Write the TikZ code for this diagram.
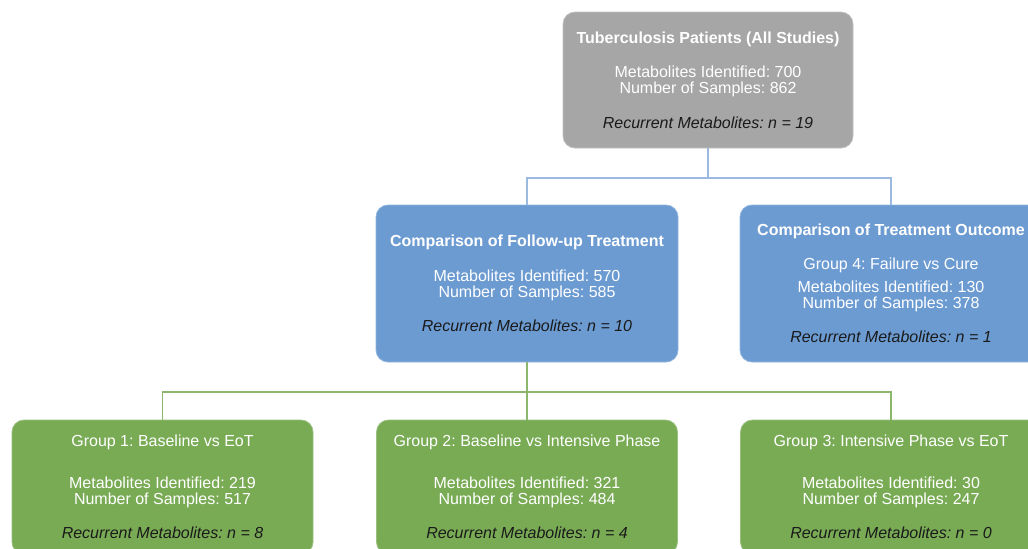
\documentclass[tikz,border=0pt]{standalone}
\usepackage{fontspec}
\setmainfont{Liberation Sans}
\frenchspacing
\definecolor{boxgray}{HTML}{A6A6A6}
\definecolor{boxblue}{HTML}{6C9BD2}
\definecolor{boxgreen}{HTML}{79AB55}
\definecolor{lineblue}{HTML}{9CB9DF}
\definecolor{linegreen}{HTML}{8DB66D}
\definecolor{txtdark}{HTML}{1A1A1A}
\newcommand{\ttl}[1]{\makebox[0pt][c]{\textbf{#1}}}
\newcommand{\rec}[1]{{\color{txtdark}\itshape Recurrent Metabolites: n = #1}}
\begin{document}
\begin{tikzpicture}[x=0.5pt, y=-0.5pt,
    card/.style={rectangle, rounded corners=6pt, inner sep=0pt, align=center, text=white,
        font=\fontsize{8}{8.1}\selectfont},
    allbox/.style={card, fill=boxgray, draw=boxgray!70!white, minimum width=145pt, minimum height=68pt},
    cmpbox/.style={card, fill=boxblue, draw=boxblue!75!white, minimum width=151pt, minimum height=78.5pt},
    grpbox/.style={card, fill=boxgreen, draw=boxgreen!75!white, minimum width=150.5pt, minimum height=67pt},
    bluelink/.style={draw=lineblue, line width=0.6pt},
    greenlink/.style={draw=linegreen, line width=0.6pt}
]
    \useasboundingbox (0,0) rectangle (1028,548);
    % top level
    \node[allbox] (allpat) at (708,80) {\ttl{Tuberculosis Patients (All Studies)}\\[9pt]
        Metabolites Identified: 700\\Number of Samples: 862\\[9pt]\rec{19}};
    % comparisons
    \node[cmpbox] (followup) at (527,283.5) {\ttl{Comparison of Follow-up Treatment}\\[9pt]
        Metabolites Identified: 570\\Number of Samples: 585\\[9pt]\rec{10}};
    \node[cmpbox] (outcome) at (891,283.5) {\ttl{Comparison of Treatment Outcome}\\[8.5pt]
        Group 4: Failure vs Cure\\[3.5pt]
        Metabolites Identified: 130\\Number of Samples: 378\\[9pt]\rec{1}};
    % groups
    \foreach \id/\x/\title/\met/\smp/\n in {grpA/162.5/Group 1: Baseline vs EoT/219/517/8,
        grpB/527/Group 2: Baseline vs Intensive Phase/321/484/4,
        grpC/891/Group 3: Intensive Phase vs EoT/30/247/0} {
        \node[grpbox] (\id) at (\x,487) {\title\\[12.5pt]
            Metabolites Identified: \met\\Number of Samples: \smp\\[9pt]\rec{\n}};
    }
    % connectors
    \coordinate (splitA) at (708,178);
    \coordinate (splitB) at (527,392);
    \draw[bluelink] (allpat.south) -- (splitA);
    \draw[bluelink] (splitA) -| (followup.north);
    \draw[bluelink] (splitA) -| (outcome.north);
    \draw[greenlink] (followup.south) -- (splitB);
    \draw[greenlink] (splitB) -| (grpA.north);
    \draw[greenlink] (splitB) -- (grpB.north);
    \draw[greenlink] (splitB) -| (grpC.north);
\end{tikzpicture}
\end{document}
